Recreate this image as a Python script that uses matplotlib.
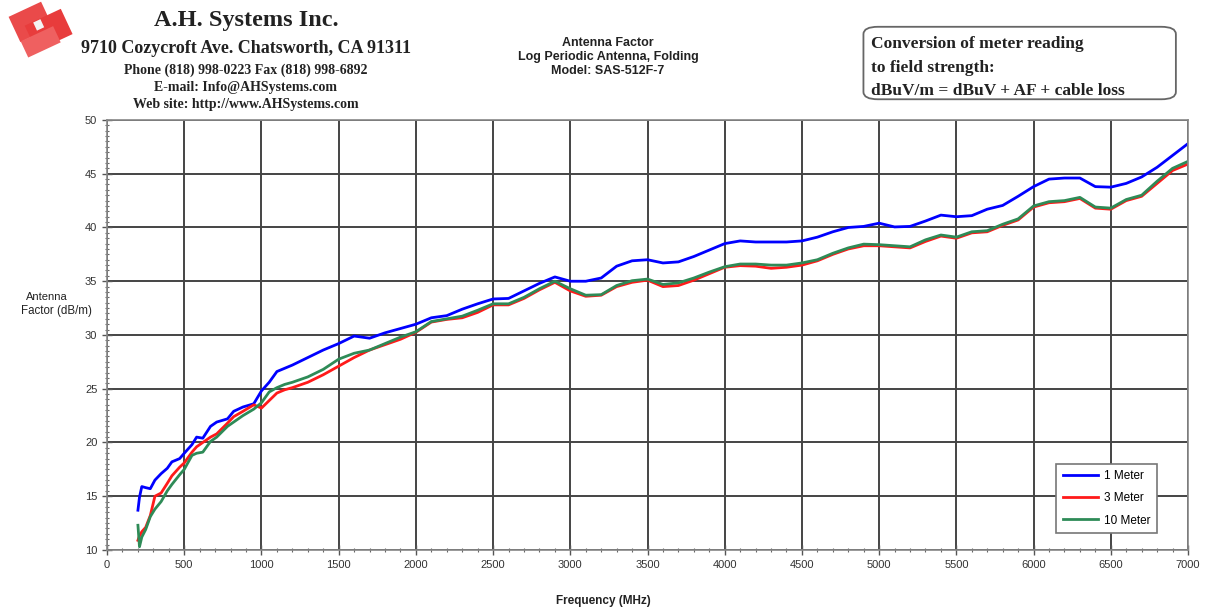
import matplotlib
matplotlib.use("Agg")
import matplotlib.pyplot as plt
from matplotlib.patches import FancyBboxPatch, Polygon
from matplotlib.ticker import MultipleLocator
import numpy as np

# frequency points (MHz)
freq = [200, 210, 225, 250, 280, 310, 350, 390, 420, 470, 500, 550, 580, 620, 670,
        710, 780, 820, 880, 950, 1000, 1050, 1100, 1150, 1200, 1300, 1400, 1500,
        1600, 1700, 1800, 1900, 2000, 2100, 2200, 2300, 2400, 2500, 2600, 2700,
        2800, 2900, 3000, 3100, 3200, 3300, 3400, 3500, 3600, 3700, 3800, 3900,
        4000, 4100, 4200, 4300, 4400, 4500, 4600, 4700, 4800, 4900, 5000, 5100,
        5200, 5300, 5400, 5500, 5600, 5700, 5800, 5900, 6000, 6100, 6200, 6300,
        6400, 6500, 6600, 6700, 6800, 6900, 7000]

af_1m = [13.7, 14.9, 15.9, 15.8, 15.7, 16.5, 17.1, 17.6, 18.2, 18.5, 19.0, 19.8, 20.5,
         20.4, 21.5, 21.9, 22.2, 22.9, 23.3, 23.6, 24.8, 25.6, 26.6, 26.9, 27.2, 27.9,
         28.6, 29.2, 29.9, 29.7, 30.2, 30.6, 31.0, 31.6, 31.8, 32.4, 32.9, 33.35, 33.4,
         34.1, 34.8, 35.4, 35.0, 35.0, 35.3, 36.4, 36.9, 37.0, 36.7, 36.8, 37.3, 37.9,
         38.5, 38.75, 38.65, 38.65, 38.65, 38.75, 39.1, 39.6, 40.0, 40.1, 40.4, 40.05,
         40.1, 40.6, 41.15, 41.0, 41.1, 41.7, 42.05, 42.9, 43.8, 44.5, 44.6, 44.6,
         43.8, 43.75, 44.1, 44.7, 45.6, 46.7, 47.8]

af_3m = [10.9, 11.3, 11.7, 12.1, 13.2, 15.0, 15.3, 16.2, 16.9, 17.7, 18.1, 19.1, 19.6,
         20.0, 20.5, 20.8, 21.8, 22.4, 22.9, 23.5, 23.2, 23.9, 24.6, 24.9, 25.1, 25.6,
         26.3, 27.1, 27.9, 28.6, 29.1, 29.6, 30.25, 31.2, 31.45, 31.6, 32.1, 32.8, 32.8,
         33.4, 34.2, 34.9, 34.1, 33.6, 33.7, 34.5, 34.9, 35.1, 34.5, 34.6, 35.1, 35.7,
         36.3, 36.45, 36.4, 36.2, 36.3, 36.5, 36.9, 37.5, 38.0, 38.3, 38.3, 38.2,
         38.1, 38.7, 39.2, 39.0, 39.5, 39.6, 40.2, 40.7, 41.9, 42.3, 42.4, 42.7,
         41.8, 41.7, 42.5, 42.9, 44.1, 45.3, 45.9]

af_10m = [12.3, 10.3, 11.2, 11.9, 13.1, 13.8, 14.5, 15.5, 16.1, 17.0, 17.5, 18.8, 19.0,
          19.1, 20.1, 20.5, 21.5, 21.9, 22.5, 23.1, 23.7, 24.7, 25.1, 25.4, 25.6, 26.1,
          26.8, 27.75, 28.3, 28.6, 29.2, 29.8, 30.3, 31.25, 31.5, 31.75, 32.3, 32.9, 32.9,
          33.5, 34.3, 35.0, 34.3, 33.7, 33.75, 34.6, 35.05, 35.2, 34.7, 34.85, 35.3, 35.85,
          36.35, 36.6, 36.6, 36.5, 36.5, 36.7, 37.0, 37.6, 38.1, 38.45, 38.4, 38.3,
          38.2, 38.85, 39.3, 39.1, 39.6, 39.7, 40.3, 40.8, 42.0, 42.4, 42.5, 42.8,
          41.9, 41.8, 42.6, 43.0, 44.3, 45.5, 46.15]

series = [("1 Meter", af_1m, "#0000ff"),
          ("3 Meter", af_3m, "#ff1a1a"),
          ("10 Meter", af_10m, "#2e8b57")]

narrow = ["Liberation Sans Narrow", "Liberation Sans", "DejaVu Sans"]
sans = ["Liberation Sans", "DejaVu Sans"]
serif = ["Liberation Serif", "DejaVu Serif"]
ink = "#222222"

fig = plt.figure(figsize=(12.11, 6.09), dpi=100)
ax = fig.add_axes([0.0884, 0.0969, 0.8926, 0.7061])

for name, vals, col in series:
    ax.plot(freq, vals, color=col, lw=2.0, label=name)

ax.set_xlim(0, 7000)
ax.set_ylim(10, 50)
ax.xaxis.set_major_locator(MultipleLocator(500))
ax.xaxis.set_minor_locator(MultipleLocator(100))
ax.yaxis.set_major_locator(MultipleLocator(5))
ax.yaxis.set_minor_locator(MultipleLocator(0.5))
ax.grid(True, which="major", color="#444444", lw=1.4)
ax.set_axisbelow(True)
for sp in ax.spines.values():
    sp.set_color("#888888")
    sp.set_linewidth(1.2)
ax.tick_params(which="major", direction="inout", length=7, width=1, color="#555555",
               labelsize=8, labelcolor="#333333")
ax.tick_params(which="minor", direction="inout", length=3, width=0.8, color="#666666")
for lab in ax.get_xticklabels() + ax.get_yticklabels():
    lab.set_family(narrow)

fig.text(0.4985, 0.013, "Frequency (MHz)", family=sans, fontsize=8.5, fontweight="bold",
         ha="center", va="center", color=ink)
fig.text(0.039, 0.513, "Antenna", family=narrow, fontsize=8, ha="center", va="center",
         color=ink)
fig.text(0.047, 0.489, "Factor (dB/m)", family=narrow, fontsize=8.3, ha="center",
         va="center", color=ink)

leg = ax.legend(loc="lower right", bbox_to_anchor=(0.9713, 0.0395), borderaxespad=0,
                fancybox=False, framealpha=1, edgecolor="#777777",
                prop={"family": narrow, "size": 8.5}, handlelength=3.0,
                handletextpad=0.5, labelspacing=0.85, borderpad=0.55)
leg.get_frame().set_linewidth(1.2)

# header: company info
fig.text(0.203, 0.966, "A.H. Systems Inc.", family=serif, fontsize=17.5,
         fontweight="bold", ha="center", va="center", color=ink)
fig.text(0.203, 0.920, "9710 Cozycroft Ave. Chatsworth, CA 91311", family=serif,
         fontsize=13, fontweight="bold", ha="center", va="center", color=ink)
fig.text(0.203, 0.884, "Phone (818) 998-0223 Fax (818) 998-6892", family=serif,
         fontsize=10, fontweight="bold", ha="center", va="center", color=ink)
fig.text(0.203, 0.857, "E-mail: Info@AHSystems.com", family=serif,
         fontsize=10, fontweight="bold", ha="center", va="center", color=ink)
fig.text(0.203, 0.829, "Web site: http://www.AHSystems.com", family=serif,
         fontsize=10, fontweight="bold", ha="center", va="center", color=ink)

# logo (small rotated red tiles), drawn in its own pixel-scaled axes
lax = fig.add_axes([0.004, 0.897, 0.06, 0.103])
lax.set_xlim(0, 73)
lax.set_ylim(63, 0)
lax.set_aspect("equal")
lax.axis("off")


def tile(cx, cy, w, h, ang, col):
    t = np.deg2rad(ang)
    pts = np.array([[-w / 2, -h / 2], [w / 2, -h / 2], [w / 2, h / 2], [-w / 2, h / 2]])
    rot = np.array([[np.cos(t), -np.sin(t)], [np.sin(t), np.cos(t)]])
    lax.add_patch(Polygon(pts @ rot.T + [cx, cy], closed=True, color=col, lw=0))


tile(26, 22, 36, 28, -25, "#ea4a4a")
tile(44, 30, 40, 28, -25, "#e83c3c")
tile(36, 42, 36, 18, -25, "#ef6060")
tile(34, 25, 8, 9, -25, "#f4f4f4")

# chart title
fig.text(0.502, 0.906, "Antenna Factor\nLog Periodic Antenna, Folding\nModel: SAS-512F-7",
         family=sans, fontsize=9, fontweight="bold", ha="center", va="center",
         linespacing=1.25, color=ink)

# conversion note box
box = FancyBboxPatch((0.713, 0.837), 0.258, 0.119, boxstyle="round,pad=0,rounding_size=0.012",
                     transform=fig.transFigure, fill=False, edgecolor="#666666", lw=1.3)
fig.patches.append(box)
fig.text(0.719, 0.889, "Conversion of meter reading\nto field strength:\ndBuV/m = dBuV + AF + cable loss",
         family=serif, fontsize=12.5, fontweight="bold", ha="left", va="center",
         linespacing=1.6, color=ink)

fig.savefig("out.png", dpi=100)
